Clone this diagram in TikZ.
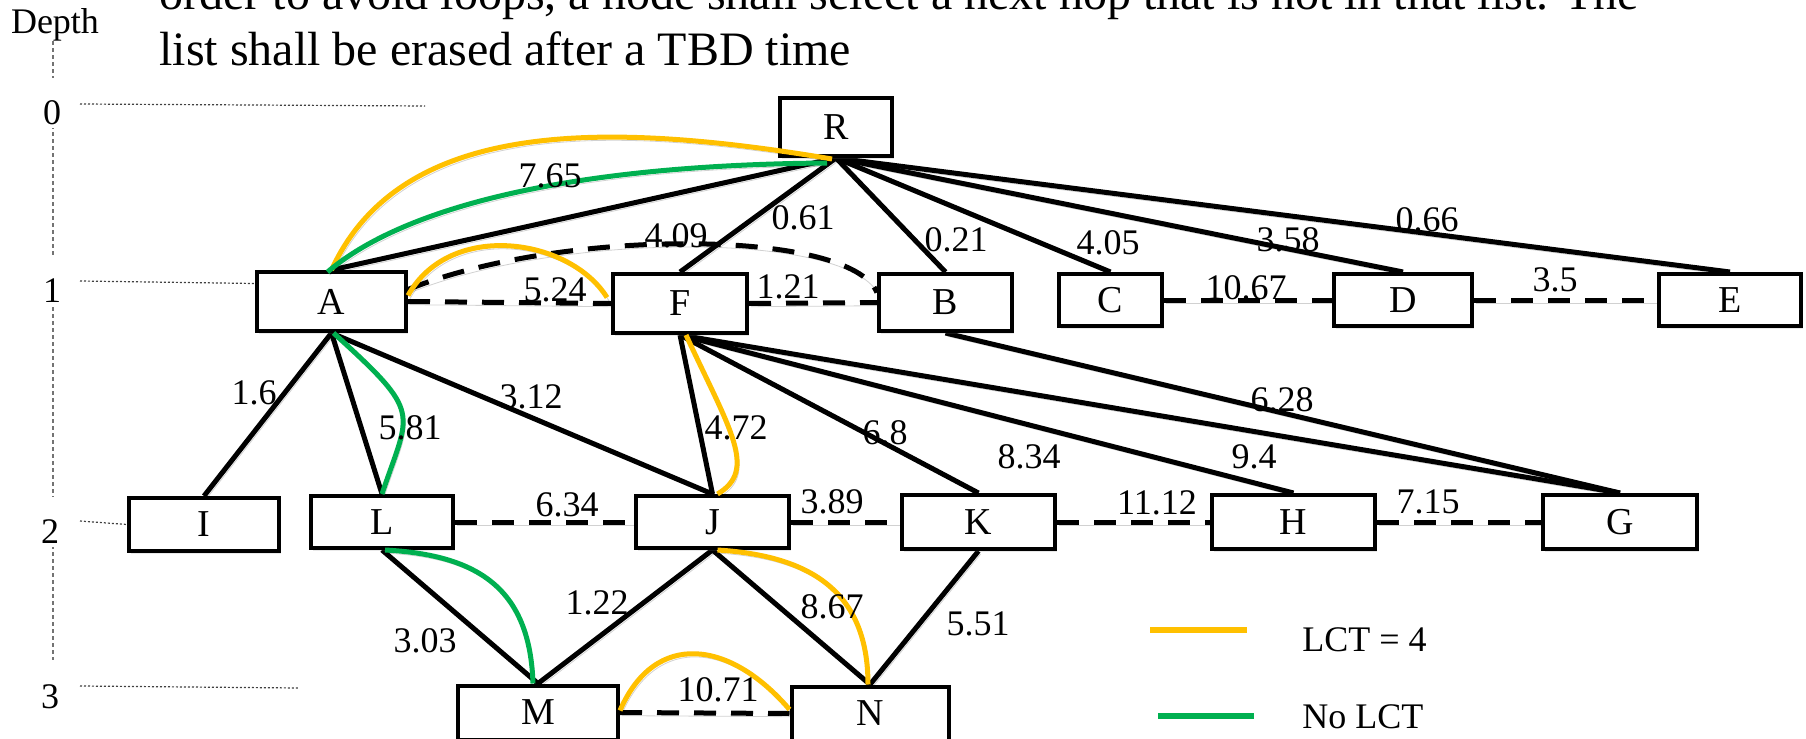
\documentclass[tikz,border=0pt]{standalone}
\usepackage{fontspec}
\setmainfont{Liberation Serif}
\usetikzlibrary{shadows,backgrounds}
\pgfdeclarelayer{paper}
\pgfdeclarelayer{background}
\pgfsetlayers{paper,background,main}
\definecolor{lctyellow}{RGB}{255,192,0}
\definecolor{lctgreen}{RGB}{0,176,80}
\begin{document}
\begin{tikzpicture}[x=0.5pt,y=-0.5pt,
  shadowed/.style={preaction={draw=black,draw opacity=0.18,transform canvas={shift={(1pt,-1.6pt)}}}},
  nodebox/.style={draw,line width=2pt,fill=white,inner sep=0pt,
    drop shadow={opacity=0.18,shadow xshift=1pt,shadow yshift=-1.5pt},
    font=\fontsize{19pt}{19pt}\selectfont},
  wlabel/.style={inner sep=0pt,font=\fontsize{18pt}{18pt}\selectfont},
  treeedge/.style={line width=2.5pt,shadowed},
  peer/.style={line width=2.5pt,dash pattern=on 11pt off 7.5pt,shadowed},
  lct/.style={line width=2.5pt,draw=lctyellow,shadowed},
  nolct/.style={line width=2.5pt,draw=lctgreen,shadowed},
  depthno/.style={anchor=base,inner sep=0pt,fill=white,text height=23pt,text depth=2pt,
    font=\fontsize{18pt}{18pt}\selectfont},
  guide/.style={draw=black!75,line width=0.6pt,dash pattern=on 1pt off 1pt},
  axis/.style={draw=black!55,line width=0.6pt,dash pattern=on 2pt off 1.5pt},
  legline/.style={line width=3pt},
  legtext/.style={anchor=west,inner sep=0pt,font=\fontsize{18pt}{18pt}\selectfont},
  headline/.style={anchor=base west,inner sep=0pt,font=\fontsize{24pt}{24pt}\selectfont}
]
\useasboundingbox (0,0) rectangle (1806,739);
\clip (0,0) rectangle (1806,739);
\begin{pgfonlayer}{paper}
\fill[white] (0,0) rectangle (1806,739);
\end{pgfonlayer}

% heading text (first line runs off the top)
\node[headline] (title1) at (159,10)
  {order to avoid loops, a node shall select a next hop that is not in that list. The};
\node[headline] (title2) at (159,65)
  {list shall be erased after a TBD time};

% depth axis
\node[anchor=base,inner sep=0pt,font=\fontsize{18pt}{18pt}\selectfont] (depth) at (55,33) {Depth};
\coordinate (d3top) at (53,660);
\draw[axis] ([xshift=-1pt]depth.south) -- (d3top);
\node[depthno] (d0) at (52,124) {0};
\node[depthno] (d1) at (52,302) {1};
\node[depthno] (d2) at (50,543) {2};
\node[depthno] (d3) at (50,708) {3};

% tree nodes
\node[nodebox,minimum width=56pt,minimum height=29pt] (R) at (836,127) {R};
\node[nodebox,minimum width=74.5pt,minimum height=29.5pt] (A) at (331.5,301.5) {A};
\node[nodebox,minimum width=67pt,minimum height=29.5pt] (F) at (680,303.5) {F};
\node[nodebox,minimum width=66.5pt,minimum height=28.5pt] (B) at (945.5,302.5) {B};
\node[nodebox,minimum width=51.5pt,minimum height=26pt] (C) at (1110.5,300) {C};
\node[nodebox,minimum width=69pt,minimum height=26pt] (D) at (1403,300) {D};
\node[nodebox,minimum width=71pt,minimum height=26pt] (E) at (1730,300) {E};
\node[nodebox,minimum width=75pt,minimum height=26.5pt] (I) at (204,524.5) {I};
\node[nodebox,minimum width=71pt,minimum height=26pt] (L) at (382,522) {L};
\node[nodebox,minimum width=76.5pt,minimum height=26pt] (J) at (712.5,522) {J};
\node[nodebox,minimum width=76.5pt,minimum height=27pt] (K) at (978.5,522) {K};
\node[nodebox,minimum width=81.5pt,minimum height=27pt] (H) at (1293.5,522) {H};
\node[nodebox,minimum width=77pt,minimum height=27pt] (G) at (1620,522) {G};
\node[nodebox,minimum width=80pt,minimum height=27pt] (M) at (538,712.5) {M};
\node[nodebox,minimum width=78.5pt,minimum height=27pt] (N) at (870,713.5) {N};

% depth guides
\coordinate (g0a) at (80,104); \coordinate (g0b) at (425,106);
\coordinate (g1a) at (80,281);
\coordinate (g2a) at (80,521);
\coordinate (g3a) at (80,686); \coordinate (g3b) at (298,688);
\draw[guide] (g0a) -- (g0b);
\draw[guide] (g1a) -- ([yshift=9pt]A.west);
\draw[guide] (g2a) -- (I.west);
\draw[guide] (g3a) -- (g3b);

% black links are drawn beneath the boxes
\begin{scope}[on background layer]
% parent links
\draw[treeedge] (R.south) -- (A.north);
\draw[treeedge] (R.south) -- (F.north);
\draw[treeedge] (R.south) -- (B.north);
\draw[treeedge] (R.south) -- (C.north);
\draw[treeedge] (R.south) -- (D.north);
\draw[treeedge] (R.south) -- (E.north);
\draw[treeedge] (A.south) -- (I.north);
\draw[treeedge] (A.south) -- (L.north);
\draw[treeedge] (A.south) -- (J.north);
\draw[treeedge] (F.south) -- (J.north);
\draw[treeedge] (F.south) -- (K.north);
\draw[treeedge] (F.south) -- (H.north);
\draw[treeedge] (F.south) -- (G.north);
\draw[treeedge] (B.south) -- (G.north);
\draw[treeedge] (L.south) -- (M.north);
\draw[treeedge] (J.south) -- (M.north);
\draw[treeedge] (J.south) -- (N.north);
\draw[treeedge] (K.south) -- (N.north);
% same-depth links
\draw[peer] (A.east) -- (F.west);
\draw[peer] (F.east) -- (B.west);
\draw[peer] (C.east) -- (D.west);
\draw[peer] (D.east) -- (E.west);
\draw[peer] (L.east) -- (J.west);
\draw[peer] (J.east) -- (K.west);
\draw[peer] (K.east) -- (H.west);
\draw[peer] (H.east) -- (G.west);
\draw[peer] (M.east) -- (N.west);
\draw[peer] ([yshift=6pt]A.east) .. controls (560,228) and (850,228) .. ([yshift=5pt]B.west);
\end{scope}

% routes with LCT = 4 (on top of the boxes)
\draw[lct] (A.north) .. controls (400,120) and (600,120) .. ([xshift=-2pt,yshift=-0.5pt]R.south);
\draw[lct] ([yshift=3pt]A.east) .. controls (450,220) and (570,238) .. ([xshift=-2pt,yshift=3pt]F.west);
\draw[lct] ([xshift=3pt]F.south) .. controls (730,430) and (758,470) .. ([xshift=2.5pt]J.north);
\draw[lct] ([xshift=2.5pt]J.south) .. controls (815,556) and (868,595) .. ([xshift=-1pt]N.north);
\draw[lct] ([yshift=1pt]M.east) .. controls (655,630) and (730,640) .. ([yshift=2pt]N.west);
% routes without LCT
\draw[nolct] ([xshift=-2pt,yshift=-1pt]A.north) .. controls (400,210) and (560,165) .. ([xshift=-4.5pt,yshift=-2.5pt]R.south);
\draw[nolct] ([xshift=1pt]A.south) .. controls (424,415) and (410,410) .. (L.north);
\draw[nolct] ([xshift=1.5pt]L.south) .. controls (480,555) and (530,590) .. ([xshift=-2.5pt]M.north);

% link weights
\node[wlabel] (w765) at (550,176) {7.65};
\node[wlabel] (w061) at (803,218) {0.61};
\node[wlabel] (w409) at (676,236) {4.09};
\node[wlabel] (w021) at (956,240) {0.21};
\node[wlabel] (w405) at (1108,243) {4.05};
\node[wlabel] (w358) at (1288,240) {3.58};
\node[wlabel] (w066) at (1427,220) {0.66};
\node[wlabel] (w524) at (555,290) {5.24};
\node[wlabel] (w121) at (788,287) {1.21};
\node[wlabel] (w1067) at (1246,288) {10.67};
\node[wlabel] (w35) at (1555,280) {3.5};
\node[wlabel] (w16) at (254,393) {1.6};
\node[wlabel] (w581) at (410,428) {5.81};
\node[wlabel] (w312) at (531,397) {3.12};
\node[wlabel] (w472) at (736,428) {4.72};
\node[wlabel] (w68) at (885,433) {6.8};
\node[wlabel] (w834) at (1029,457) {8.34};
\node[wlabel] (w94) at (1254,457) {9.4};
\node[wlabel] (w628) at (1282,400) {6.28};
\node[wlabel] (w634) at (567,505) {6.34};
\node[wlabel] (w389) at (832,502) {3.89};
\node[wlabel] (w1112) at (1157,503) {11.12};
\node[wlabel] (w715) at (1428,502) {7.15};
\node[wlabel] (w122) at (597,603) {1.22};
\node[wlabel] (w303) at (425,641) {3.03};
\node[wlabel] (w867) at (832,607) {8.67};
\node[wlabel] (w551) at (978,624) {5.51};
\node[wlabel] (w1071) at (718,690) {10.71};

% legend
\coordinate (ly1) at (1150,630); \coordinate (ly2) at (1247,630);
\coordinate (lg1) at (1158,716); \coordinate (lg2) at (1254,716);
\draw[legline,lctyellow] (ly1) -- (ly2);
\draw[legline,lctgreen] (lg1) -- (lg2);
\node[legtext] (leglct) at (1302,640) {LCT = 4};
\node[legtext] (legnolct) at (1302,717) {No LCT};
\end{tikzpicture}
\end{document}
